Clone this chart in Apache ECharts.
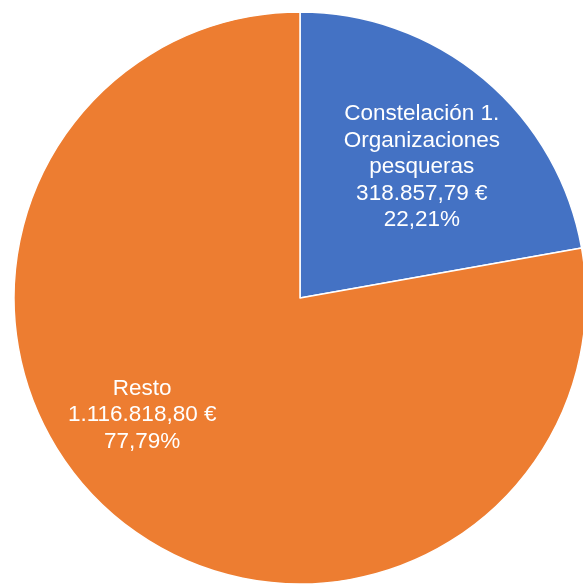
<!DOCTYPE html>
<html><head><meta charset="utf-8">
<script src="https://cdn.jsdelivr.net/npm/echarts@6/dist/echarts.min.js"></script>
<style>html,body{margin:0;padding:0;background:#fff}#c{width:583px;height:584px}</style>
</head><body><div id="c"></div>
<script>
const categories = ['Constelación 1.\nOrganizaciones\npesqueras', 'Resto'];
const values = [318857.79, 1116818.80];
const valueLabels = ['318.857,79 €', '1.116.818,80 €'];
const percentLabels = ['22,21%', '77,79%'];
const colors = ['#4472C4', '#ED7D31'];
const labelShift = [[28, -19], [-64, 5]];

const chart = echarts.init(document.getElementById('c'), null, {renderer: 'canvas'});
chart.setOption({
  animation: false,
  series: [{
    type: 'pie',
    center: [300, 298],
    radius: [0, 286],
    startAngle: 90,
    clockwise: true,
    avoidLabelOverlap: false,
    itemStyle: {borderColor: '#fff', borderWidth: 1.5},
    label: {
      show: true, position: 'inside', color: '#fff',
      fontFamily: 'Liberation Sans, Arial', fontSize: 22.5, lineHeight: 26.5,
      formatter: p => categories[p.dataIndex] + '\n' + valueLabels[p.dataIndex] + '\n' + percentLabels[p.dataIndex]
    },
    labelLayout: p => ({dx: labelShift[p.dataIndex][0], dy: labelShift[p.dataIndex][1]}),
    emphasis: {disabled: true},
    data: categories.map((c, i) => ({name: c, value: values[i], itemStyle: {color: colors[i]}}))
  }]
});
</script></body></html>
